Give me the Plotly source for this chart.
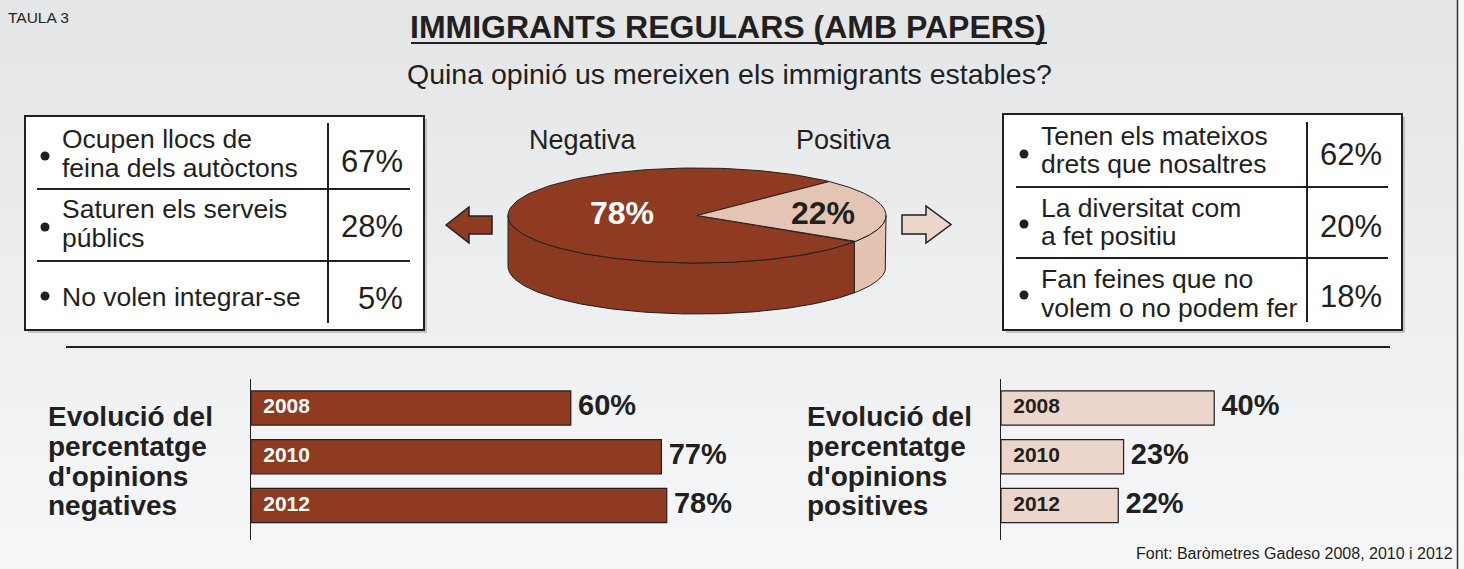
import numpy as np
import plotly.graph_objects as go

W, H = 1464, 569

# ---------------- data ----------------
pie_labels = ["Negativa", "Positiva"]
pie_values = [78, 22]

neg_reasons = [["Ocupen llocs de", "feina dels autòctons"],
               ["Saturen els serveis", "públics"],
               ["No volen integrar-se"]]
neg_pcts = [67, 28, 5]

pos_reasons = [["Tenen els mateixos", "drets que nosaltres"],
               ["La diversitat com", "a fet positiu"],
               ["Fan feines que no", "volem o no podem fer"]]
pos_pcts = [62, 20, 18]

years = ["2008", "2010", "2012"]
neg_evol = [60, 77, 78]
pos_evol = [40, 23, 22]

# ---------------- style ----------------
FONT = "Liberation Sans, Arial, sans-serif"
INK = "#231f20"
BROWN = "#8f3b22"
BROWN_SIDE = "#8b3920"
PINK = "#e4c4b3"
PINK_SIDE = "#e3c3b1"
PINK_BAR = "#ecd6cb"


def px(x):
    return x / W


def py(y):
    return 1 - y / H


fig = go.Figure()
shapes = []
annotations = []

# background gradient
n = 24
for i in range(n):
    t = i / (n - 1)
    c = int(229 + (246 - 229) * t)
    shapes.append(dict(type="rect", xref="paper", yref="paper",
                       x0=0, x1=px(1457), y0=py(H * (i + 1) / n), y1=py(H * i / n),
                       fillcolor=f"rgb({c},{c+1},{c+2})", line=dict(width=0), layer="below"))
shapes.append(dict(type="rect", xref="paper", yref="paper", x0=px(1457), x1=1, y0=0, y1=1,
                   fillcolor="#f7f7f7", line=dict(width=0), layer="below"))
shapes.append(dict(type="line", xref="paper", yref="paper", x0=px(1457.5), x1=px(1457.5), y0=0, y1=1,
                   line=dict(color="#333", width=1.5)))


def ann(x, y, text, size, color=INK, xanchor="center", bold=False, family=FONT, **kw):
    annotations.append(dict(xref="paper", yref="paper", x=px(x), y=py(y), text=text,
                            showarrow=False, xanchor=xanchor, yanchor="middle",
                            borderpad=0, borderwidth=0,
                            font=dict(family=family, size=size, color=color,
                                      weight="bold" if bold else "normal"), **kw))


# titles
ann(8, 17, "TAULA 3", 15.5, xanchor="left")
ann(728, 27, "IMMIGRANTS REGULARS (AMB PAPERS)", 32, bold=True)
shapes.append(dict(type="line", xref="paper", yref="paper", x0=px(411), x1=px(1047),
                   y0=py(43), y1=py(43), line=dict(color=INK, width=2)))
ann(729, 74, "Quina opinió us mereixen els immigrants estables?", 28.5)


# tables
def draw_table(x0, y0, x1, y1, xdiv, hl_x0, hl_x1, hlines, vdiv_y, bullet_x, text_x,
               pct_x, rows_y, pct_y, bullet_y, reasons, pcts):
    shapes.append(dict(type="rect", xref="paper", yref="paper", x0=px(x0 + 3), x1=px(x1 + 3),
                       y0=py(y1 + 3), y1=py(y0 + 3), fillcolor="rgba(0,0,0,0.18)",
                       line=dict(width=0)))
    shapes.append(dict(type="rect", xref="paper", yref="paper", x0=px(x0), x1=px(x1),
                       y0=py(y1), y1=py(y0), fillcolor="white", line=dict(color=INK, width=2)))
    shapes.append(dict(type="line", xref="paper", yref="paper", x0=px(xdiv), x1=px(xdiv),
                       y0=py(vdiv_y[1]), y1=py(vdiv_y[0]), line=dict(color=INK, width=2)))
    for hy in hlines:
        shapes.append(dict(type="line", xref="paper", yref="paper", x0=px(hl_x0), x1=px(hl_x1),
                           y0=py(hy), y1=py(hy), line=dict(color=INK, width=2)))
    for lines, ys, p, pyy, by in zip(reasons, rows_y, pcts, pct_y, bullet_y):
        shapes.append(dict(type="circle", xref="paper", yref="paper",
                           x0=px(bullet_x - 4.5), x1=px(bullet_x + 4.5),
                           y0=py(by + 4.5), y1=py(by - 4.5), fillcolor=INK, line=dict(width=0)))
        for t, yy in zip(lines, ys):
            ann(text_x, yy, t, 26.5, xanchor="left")
        ann(pct_x, pyy, f"{p}%", 31, xanchor="right")


draw_table(25, 116, 424, 330, 328, 37, 410, [189, 261], (123, 323), 45, 62, 403,
           [[139, 167.5], [209, 237.5], [297]], [161, 226, 298], [156, 227, 296],
           neg_reasons, neg_pcts)
draw_table(1003, 114, 1402, 330, 1307, 1016, 1388, [187, 258], (122, 322), 1024, 1041, 1382,
           [[136, 164.5], [207.5, 236], [279, 307.5]], [155, 226, 296], [154, 224, 295],
           pos_reasons, pos_pcts)

# ---------------- 3D pie (overlay axis in pixel units) ----------------
cx, cy, rx, ry, depth = 697, 215.5, 189, 47.5, 51
total = sum(pie_values)
span_pos = pie_values[1] / total * 360
mid_pos = 6
a_pos = (mid_pos - span_pos / 2, mid_pos + span_pos / 2)
a_neg = (a_pos[1], a_pos[0] + 360)


def arc(a0, a1, dy=0, npts=120):
    t = np.radians(np.linspace(a0, a1, npts))
    return cx + rx * np.cos(t), cy - ry * np.sin(t) + dy


def side(a0, a1):
    a0m, a1m = a0 % 360, a0 % 360 + (a1 - a0)
    lo, hi = max(a0m, 180), min(a1m, 360)
    xs1, ys1 = arc(lo, hi)
    xs2, ys2 = arc(hi, lo, depth)
    return np.r_[xs1, xs2, xs1[:1]], np.r_[ys1, ys2, ys1[:1]]


def sector(a0, a1):
    xs, ys = arc(a0, a1)
    return np.r_[cx, xs, cx], np.r_[cy, ys, cy]


for (a0, a1), col in zip([a_neg, a_pos], [BROWN_SIDE, PINK_SIDE]):
    sx, sy = side(a0, a1)
    fig.add_trace(go.Scatter(x=sx, y=sy, fill="toself", fillcolor=col, mode="lines",
                             line=dict(color=INK, width=1), xaxis="x3", yaxis="y3",
                             hoverinfo="skip", showlegend=False))
for (a0, a1), col, lab, v in zip([a_neg, a_pos], [BROWN, PINK], pie_labels, pie_values):
    sx, sy = sector(a0, a1)
    fig.add_trace(go.Scatter(x=sx, y=sy, fill="toself", fillcolor=col, mode="lines",
                             line=dict(color=INK, width=1), xaxis="x3", yaxis="y3",
                             name=lab, hovertemplate=f"{lab}: {v}%<extra></extra>",
                             showlegend=False))

ann(583, 140, pie_labels[0], 27)
ann(844, 140, pie_labels[1], 27)
ann(622, 213, f"{pie_values[0]}%", 32, color="white", bold=True)
ann(823, 213, f"{pie_values[1]}%", 32, color=INK, bold=True)

# arrows
shapes.append(dict(type="path", xref="paper", yref="paper",
                   path=("M {} {} L {} {} L {} {} L {} {} L {} {} L {} {} L {} {} Z").format(
                       px(446), py(225), px(469), py(207), px(469), py(216), px(492), py(216),
                       px(492), py(234), px(469), py(234), px(469), py(243)),
                   fillcolor=BROWN, line=dict(color=INK, width=1.5)))
shapes.append(dict(type="path", xref="paper", yref="paper",
                   path=("M {} {} L {} {} L {} {} L {} {} L {} {} L {} {} L {} {} Z").format(
                       px(902), py(215), px(926), py(215), px(926), py(206), px(951), py(224.5),
                       px(926), py(243), px(926), py(234), px(902), py(234)),
                   fillcolor=PINK_BAR, line=dict(color=INK, width=1.5)))

# separator
shapes.append(dict(type="line", xref="paper", yref="paper", x0=px(66), x1=px(1390),
                   y0=py(347), y1=py(347), line=dict(color=INK, width=2)))

# ---------------- evolution bars ----------------
PX_PER_PCT = 5.33
CLEAR = "rgba(0,0,0,0)"
for xa, ya, vals, col, ycol in [("x", "y", neg_evol, BROWN, "white"),
                                ("x2", "y2", pos_evol, PINK_BAR, INK)]:
    fig.add_trace(go.Bar(x=vals, y=years, orientation="h", width=0.7, xaxis=xa, yaxis=ya,
                         marker=dict(color=col, line=dict(color=INK, width=1.2)),
                         hovertemplate="%{y}: %{x}%<extra></extra>", showlegend=False))
    # year labels inside the bars (invisible marker sets the text offset)
    fig.add_trace(go.Scatter(x=[0] * len(years), y=years, mode="markers+text", text=years,
                             textposition="middle right",
                             marker=dict(size=18, color=CLEAR, line=dict(width=0)),
                             textfont=dict(family=FONT, size=21, color=ycol, weight="bold"),
                             xaxis=xa, yaxis=ya, hoverinfo="skip", showlegend=False,
                             cliponaxis=False))
    # value labels after the bars
    fig.add_trace(go.Scatter(x=vals, y=years, mode="markers+text", text=[f"{v}%" for v in vals],
                             textposition="middle right",
                             marker=dict(size=10, color=CLEAR, line=dict(width=0)),
                             textfont=dict(family=FONT, size=29, color=INK, weight="bold"),
                             xaxis=xa, yaxis=ya, hoverinfo="skip", showlegend=False,
                             cliponaxis=False))

for x0, word in [(48, "negatives"), (807, "positives")]:
    for t, yy in zip(["Evolució del", "percentatge", "d'opinions", word], [416, 446, 476, 505]):
        ann(x0, yy, t, 28, bold=True, xanchor="left")

ann(1453, 553, "Font: Baròmetres Gadeso 2008, 2010 i 2012", 16, xanchor="right")

ydom = [py(540), py(379)]
yrange = [2.708, -0.595]
axis_off = dict(visible=False, fixedrange=True)
fig.update_layout(
    width=W, height=H, margin=dict(l=0, r=0, t=0, b=0),
    paper_bgcolor="#ececed", plot_bgcolor="rgba(0,0,0,0)",
    font=dict(family=FONT, color=INK),
    xaxis=dict(domain=[px(251), px(251 + 100 * PX_PER_PCT)], range=[0, 100], anchor="y", **axis_off),
    yaxis=dict(domain=ydom, type="category", range=yrange, anchor="x", showline=True,
               linecolor=INK, linewidth=1.2, showticklabels=False, showgrid=False,
               zeroline=False, ticks="", fixedrange=True),
    xaxis2=dict(domain=[px(1001), px(1457)], range=[0, 456 / PX_PER_PCT], anchor="y2", **axis_off),
    yaxis2=dict(domain=ydom, type="category", range=yrange, anchor="x2", showline=True,
                linecolor=INK, linewidth=1.2, showticklabels=False, showgrid=False,
                zeroline=False, ticks="", fixedrange=True),
    xaxis3=dict(domain=[0, 1], range=[0, W], anchor="y3", **axis_off),
    yaxis3=dict(domain=[0, 1], range=[H, 0], anchor="x3", **axis_off),
    shapes=shapes, annotations=annotations, showlegend=False,
)

fig.write_html("out.html", config={"displayModeBar": False},
               post_script="document.body.style.margin='0';")
